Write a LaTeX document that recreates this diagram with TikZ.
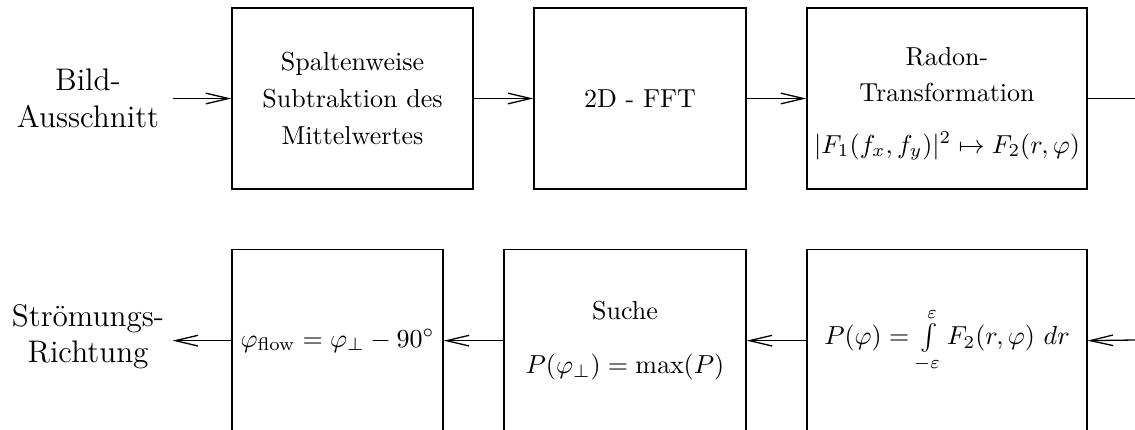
\documentclass[tikz,border=0pt]{standalone}
\usetikzlibrary{arrows.meta}
\begin{document}
\begin{tikzpicture}[x=0.3846pt,y=-0.3846pt,
  box/.style={draw,line width=0.5pt,inner sep=0pt,align=center},
  toprow/.style={box,minimum height=69.6pt},
  botrow/.style={box,minimum height=70pt,anchor=north},
  lbl/.style={font=\large,align=center,text width=64.6pt,inner sep=0pt},
  ln/.style={line width=0.5pt},
  arr/.style={ln,-{Straight Barb[length=8.7pt,width=4.1pt]}}]
\useasboundingbox (0,0) rectangle (1135,430);
\clip (0,0) rectangle (1135,430);
% top row
\node[lbl] (in) at (88,98.5) {Bild-\\Ausschnitt};
\node[toprow,minimum width=92.7pt] (b1) at (352.5,98.5)
  {Spaltenweise\\[2.2pt]Subtraktion des\\[2.2pt]Mittelwertes};
\node[toprow,minimum width=81.5pt] (b2) at (640,98.5) {2D - FFT};
\node[toprow,minimum width=107.7pt] (b3) at (947,98.5)
  {\rule{0pt}{11pt}Radon-\\[1.8pt]Transformation\\[8pt]$|F_1(f_x,f_y)|^2\mapsto F_2(r,\varphi)$};
\coordinate (rt) at (1135,98.5);
% bottom row
\coordinate (rb) at (1135,340);
\node[botrow,minimum width=107.7pt] (c3) at (947,249)
  {$P(\varphi)=\int\limits_{-\varepsilon}^{\varepsilon}F_2(r,\varphi)\ dr$};
\node[botrow,minimum width=93.1pt] (c2) at (625,249)
  {Suche\\[8.5pt]$P(\varphi_\perp)=\max(P)$};
\node[botrow,minimum width=81.2pt] (c1) at (337.5,249)
  {$\varphi_{\mathrm{flow}}=\varphi_\perp-90^\circ$};
\node[lbl] (out) at (88,337) {Strömungs-\\Richtung};
% connectors
\draw[arr] (in.east) -- (b1.west);
\draw[arr] (b1.east) -- (b2.west);
\draw[arr] (b2.east) -- (b3.west);
\draw[ln] (b3.east) -- (rt);
\draw[arr] (rb) -- (c3.east);
\draw[arr] (c3.west) -- (c2.east);
\draw[arr] (c2.west) -- (c1.east);
\draw[arr] (c1.west) -- (c1.west -| out.east);
\end{tikzpicture}
\end{document}
